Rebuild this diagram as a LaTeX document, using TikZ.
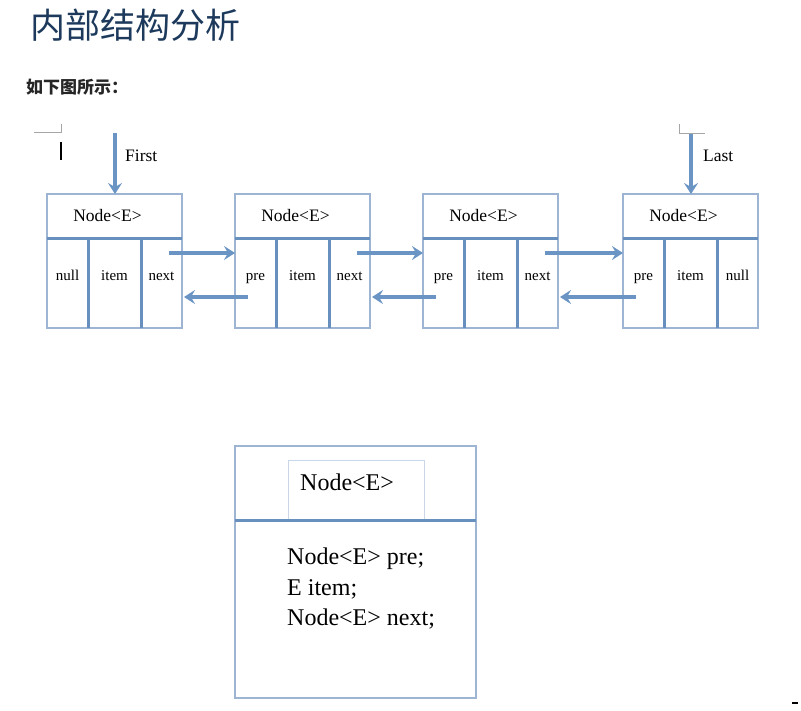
\documentclass[tikz,border=0pt]{standalone}
\usepackage{fontspec}
\setmainfont{Liberation Serif}
\newfontfamily\cjk{Noto Sans CJK SC}
\usetikzlibrary{arrows.meta,calc}
\definecolor{boxc}{HTML}{9DB5D3}
\definecolor{divc}{HTML}{6890BF}
\definecolor{arrc}{HTML}{6A94C3}
\definecolor{titlec}{HTML}{1D3A5C}
\definecolor{innerc}{HTML}{C9D7E8}
\tikzset{
  boxline/.style={draw=boxc, line width=1.5pt},
  divline/.style={draw=divc, line width=3pt},
  arr/.style={draw=arrc, line width=3.6pt, -{Stealth[length=11pt,width=14pt,inset=4pt]}},
  hdr/.style={minimum width=135pt, minimum height=44pt, inner sep=0pt, outer sep=0pt},
  cell/.style={minimum height=90pt, inner sep=0pt, outer sep=0pt},
  htxt/.style={font=\fontsize{17.5}{20}\selectfont, inner sep=0pt, anchor=base},
  ctxt/.style={font=\fontsize{15}{17}\selectfont, inner sep=0pt, anchor=base},
  lbl/.style={font=\fontsize{17.5}{20}\selectfont, inner sep=0pt, anchor=base west},
  big/.style={font=\fontsize{24}{30}\selectfont, inner sep=0pt},
  edmark/.style={draw=gray!70, line width=0.8pt}
}
\begin{document}
\begin{tikzpicture}[x=1pt,y=-1pt]
\useasboundingbox (0,0) rectangle (801,710);
% headings
\node[font=\cjk\fontsize{35}{38}\selectfont, text=titlec, anchor=west, inner sep=0pt] (title) at (30,25) {内部结构分析};
\node[font=\cjk\bfseries\fontsize{17}{20}\selectfont, text=black!85, anchor=west, inner sep=0pt] (sub) at (26,87) {如下图所示：};
% list nodes
\foreach \i/\L/\ta/\tb/\tc in {1/47/null/item/next, 2/235/pre/item/next, 3/423/pre/item/next, 4/623/pre/item/null}{
  \node[hdr, anchor=north west] (h\i) at (\L,194) {};
  \node[cell, minimum width=41pt, anchor=north west] (a\i) at (\L,238) {};
  \node[cell, minimum width=53pt, anchor=north west] (b\i) at (a\i.north east) {};
  \node[cell, minimum width=41pt, anchor=north west] (c\i) at (b\i.north east) {};
  \node[htxt] (ht\i) at ([xshift=-7pt]h\i.center |- 0,221) {Node<E>};
  \node[ctxt] (ta\i) at (a\i.center |- 0,280) {\ta};
  \node[ctxt] (tb\i) at (b\i.center |- 0,280) {\tb};
  \node[ctxt] (tc\i) at (c\i.center |- 0,280) {\tc};
  \draw[boxline] (h\i.north west) rectangle (c\i.south east);
  \draw[divline] (h\i.south west) -- (c\i.north east);
  \draw[divline] (a\i.north east) -- (a\i.south east);
  \draw[divline] (b\i.north east) -- (b\i.south east);
}
% links
\foreach \i/\j in {1/2, 2/3, 3/4}{
  \draw[arr] ([xshift=-13pt,yshift=30pt]c\i.east) -- ([yshift=30pt]a\j.west);
  \draw[arr] ([xshift=13pt,yshift=-14pt]a\j.west) -- ([xshift=2pt,yshift=-14pt]c\i.east);
}
% First / Last pointers
\coordinate (fst) at (115,133);
\coordinate (lst) at (691,133);
\draw[arr] (fst) -- (h1.north -| fst);
\draw[arr] (lst) -- (h4.north -| lst);
\node[lbl] (lf) at (125,161) {First};
\node[lbl] (ll) at (703,161) {Last};
% small editor marks
\coordinate (m1) at (34,132);
\coordinate (m2) at (61,132);
\coordinate (m3) at (61,124);
\draw[edmark] (m1) -- (m2) -- (m3);
\coordinate (m4) at (679,124);
\coordinate (m5) at (679,133);
\coordinate (m6) at (705,133);
\draw[edmark] (m4) -- (m5) -- (m6);
\coordinate (k1) at (61,142);
\coordinate (k2) at (61,160);
\draw[black, line width=1.2pt] (k1) -- (k2);
\coordinate (k3) at (792,703);
\coordinate (k4) at (798,703);
\draw[black, line width=1.2pt] (k3) -- (k4);
% class box
\node[minimum width=241pt, minimum height=74pt, inner sep=0pt, outer sep=0pt, anchor=north west] (ch) at (235,446) {};
\node[minimum width=241pt, minimum height=178pt, inner sep=0pt, outer sep=0pt, anchor=north west] (cb) at (ch.south west) {};
\node[draw=innerc, line width=0.8pt, minimum width=136pt, minimum height=60pt, inner sep=0pt, anchor=north west] (ci) at (288,460) {};
\draw[boxline] (ch.north west) rectangle (cb.south east);
\draw[divline] (ch.south west) -- (ch.south east);
\node[big, anchor=west] (cit) at (300,482) {Node<E>};
\node[big, anchor=west] (l1) at (287,559) {Node<E> pre;};
\node[big, anchor=west] (l2) at (287,589) {E item;};
\node[big, anchor=west] (l3) at (287,619) {Node<E> next;};
\end{tikzpicture}
\end{document}
